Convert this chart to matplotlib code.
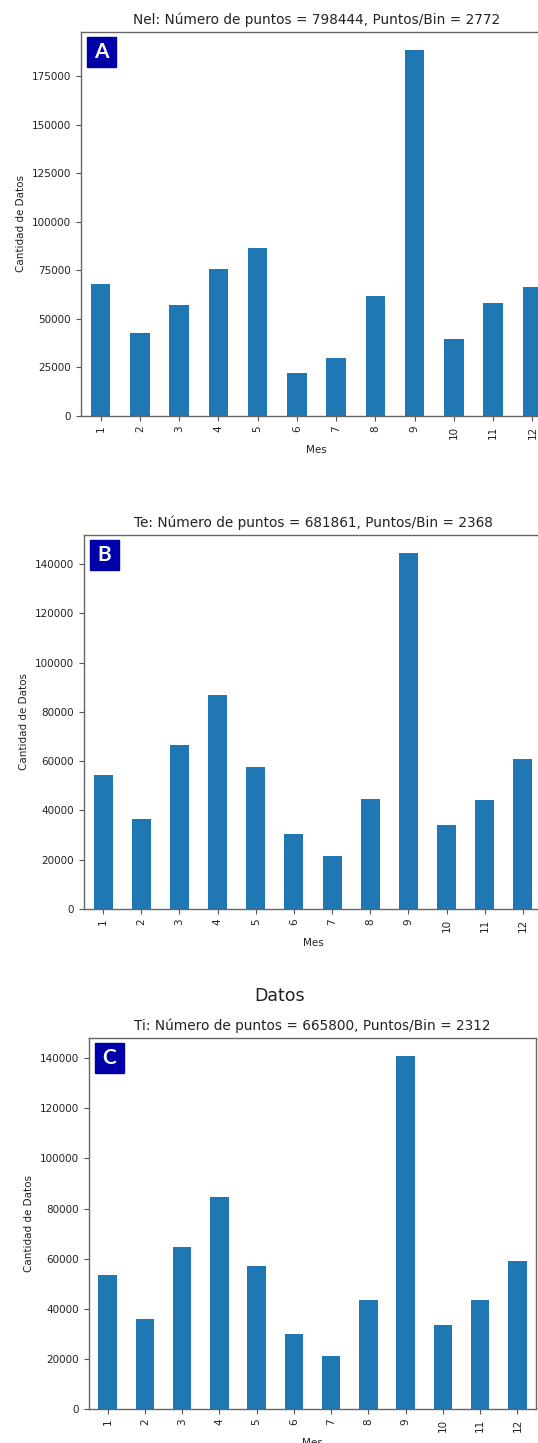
import matplotlib
matplotlib.use("Agg")
import matplotlib.pyplot as plt
from matplotlib.patches import Rectangle
from matplotlib.ticker import MultipleLocator

# datos
meses = [1, 2, 3, 4, 5, 6, 7, 8, 9, 10, 11, 12]
nel_counts = [68000, 42900, 57300, 75900, 86700, 22000, 30000, 62000, 188500, 39800, 58200, 66400]
te_counts = [54500, 36500, 66600, 86800, 57800, 30400, 21500, 44500, 144600, 34200, 44100, 60700]
ti_counts = [53400, 35800, 64500, 84700, 56900, 29900, 21200, 43500, 141000, 33400, 43500, 58900]

titulos = ["Nel: Número de puntos = 798444, Puntos/Bin = 2772",
           "Te: Número de puntos = 681861, Puntos/Bin = 2368",
           "Ti: Número de puntos = 665800, Puntos/Bin = 2312"]
letras = ["A", "B", "C"]
pasos = [25000, 20000, 20000]

W, H = 538, 1443
fig = plt.figure(figsize=(W / 100, H / 100), dpi=100)

# posiciones de los ejes en pixeles: (izq, der, arriba, abajo)
cajas = [(81, 552, 32, 416),
         (84, 542, 535, 909),
         (89, 536, 1038, 1409)]

txt_color = '#222222'
for datos, titulo, letra, paso, (x0, x1, y0, y1) in zip(
        [nel_counts, te_counts, ti_counts], titulos, letras, pasos, cajas):
    ax = fig.add_axes([x0 / W, 1 - y1 / H, (x1 - x0) / W, (y1 - y0) / H])
    pos = list(range(len(meses)))
    ax.bar(pos, datos, width=0.5, color='#1f77b4')
    ax.set_xlim(-0.5, len(meses) - 0.5)
    ax.set_ylim(0, max(datos) * 1.05)
    ax.yaxis.set_major_locator(MultipleLocator(paso))
    ax.set_xticks(pos)
    ax.set_xticklabels([str(m) for m in meses], rotation=90)
    ax.tick_params(labelsize=7.5, colors=txt_color, length=3.5, width=0.8)
    ax.tick_params(axis='both', color='#555555')
    for s in ax.spines.values():
        s.set_color('#666666')
        s.set_linewidth(1.0)
    ax.set_title(titulo, fontsize=9.8, color=txt_color, pad=6)
    ax.set_xlabel("Mes", fontsize=7.5, color=txt_color, labelpad=4)
    ax.set_ylabel("Cantidad de Datos", fontsize=7.5, color=txt_color, labelpad=4)

    # etiqueta del panel
    bx, by, bw, bh = x0 + 6, y0 + 5, 29, 30
    fig.patches.append(Rectangle((bx / W, 1 - (by + bh) / H), bw / W, bh / H,
                                 transform=fig.transFigure, color='#0000a8', zorder=5))
    fig.text((bx + bw / 2) / W, 1 - (by + bh / 2) / H, letra, color='white',
             fontsize=15, fontweight='bold', family=['Lato', 'DejaVu Sans'],
             ha='center', va='center', zorder=6)

fig.text(280 / W, 1 - 996 / H, "Datos", fontsize=12.5, color=txt_color,
         ha='center', va='center')

fig.savefig("out.png", dpi=100)
